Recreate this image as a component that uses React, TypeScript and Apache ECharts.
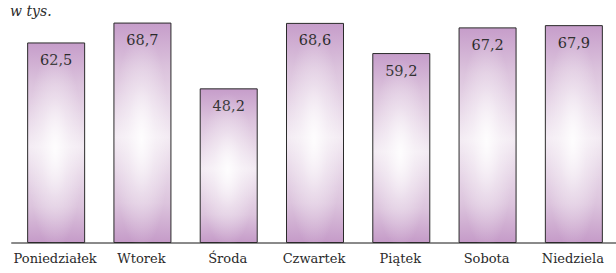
import React, { useEffect, useRef } from "react";
import * as echarts from "echarts";

const categories = ["Poniedziałek", "Wtorek", "Środa", "Czwartek", "Piątek", "Sobota", "Niedziela"];
const values = [62.5, 68.7, 48.2, 68.6, 59.2, 67.2, 67.9];
const unitLabel = "w tys.";

const SERIF = "DejaVu Serif";

export default function App() {
  const ref = useRef<HTMLDivElement>(null);
  useEffect(() => {
    if (!ref.current) return;
    const chart = echarts.init(ref.current, null, { renderer: "svg" });
    const baseColor = {
      type: "linear",
      x: 0,
      y: 0,
      x2: 0,
      y2: 1,
      colorStops: [
        { offset: 0, color: "#c69dca" },
        { offset: 0.2, color: "#dbc2dc" },
        { offset: 0.52, color: "#f3ebf3" },
        { offset: 0.82, color: "#dcc4dd" },
        { offset: 1, color: "#c59bc8" },
      ],
    };
    const glowColor = {
      type: "radial",
      x: 0.5,
      y: 0.53,
      r: 0.5,
      colorStops: [
        { offset: 0, color: "rgba(255,255,255,0.9)" },
        { offset: 0.5, color: "rgba(255,255,255,0.35)" },
        { offset: 1, color: "rgba(255,255,255,0)" },
      ],
    };
    chart.setOption({
      animation: false,
      backgroundColor: "#ffffff",
      textStyle: { fontFamily: SERIF },
      grid: { left: 12, top: 18.4, width: 616, height: 224.6, containLabel: false },
      graphic: [
        {
          type: "text",
          left: 10,
          top: 4,
          style: {
            text: unitLabel,
            font: "italic 14px 'DejaVu Serif'",
            fill: "#2a2a2a",
          },
        },
      ],
      xAxis: {
        type: "category",
        data: categories,
        axisTick: { show: false },
        axisLine: { lineStyle: { color: "#8a8a8a", width: 2 } },
        axisLabel: {
          interval: 0,
          margin: 9,
          color: "#2a2a2a",
          fontFamily: SERIF,
          fontSize: 13,
        },
      },
      yAxis: {
        type: "value",
        min: 0,
        max: 70,
        show: false,
        splitLine: { show: false },
      },
      series: [
        {
          type: "bar",
          data: values,
          barWidth: 58,
          itemStyle: { color: baseColor, borderColor: "#2a2a2a", borderWidth: 1 },
          label: {
            show: true,
            position: "insideTop",
            distance: 10,
            color: "#2a2a2a",
            fontFamily: SERIF,
            fontSize: 14.5,
            formatter: (p: any) => String(p.value).replace(".", ","),
          },
        },
        {
          type: "bar",
          data: values,
          barWidth: 56,
          barGap: "-100%",
          silent: true,
          itemStyle: { color: glowColor, borderWidth: 0 },
          label: { show: false },
          z: 3,
        },
      ],
    });
    return () => chart.dispose();
  }, []);
  return (
    <div
      ref={ref}
      style={{ position: "absolute", left: 0, top: 0, width: 616, height: 273 }}
    />
  );
}
